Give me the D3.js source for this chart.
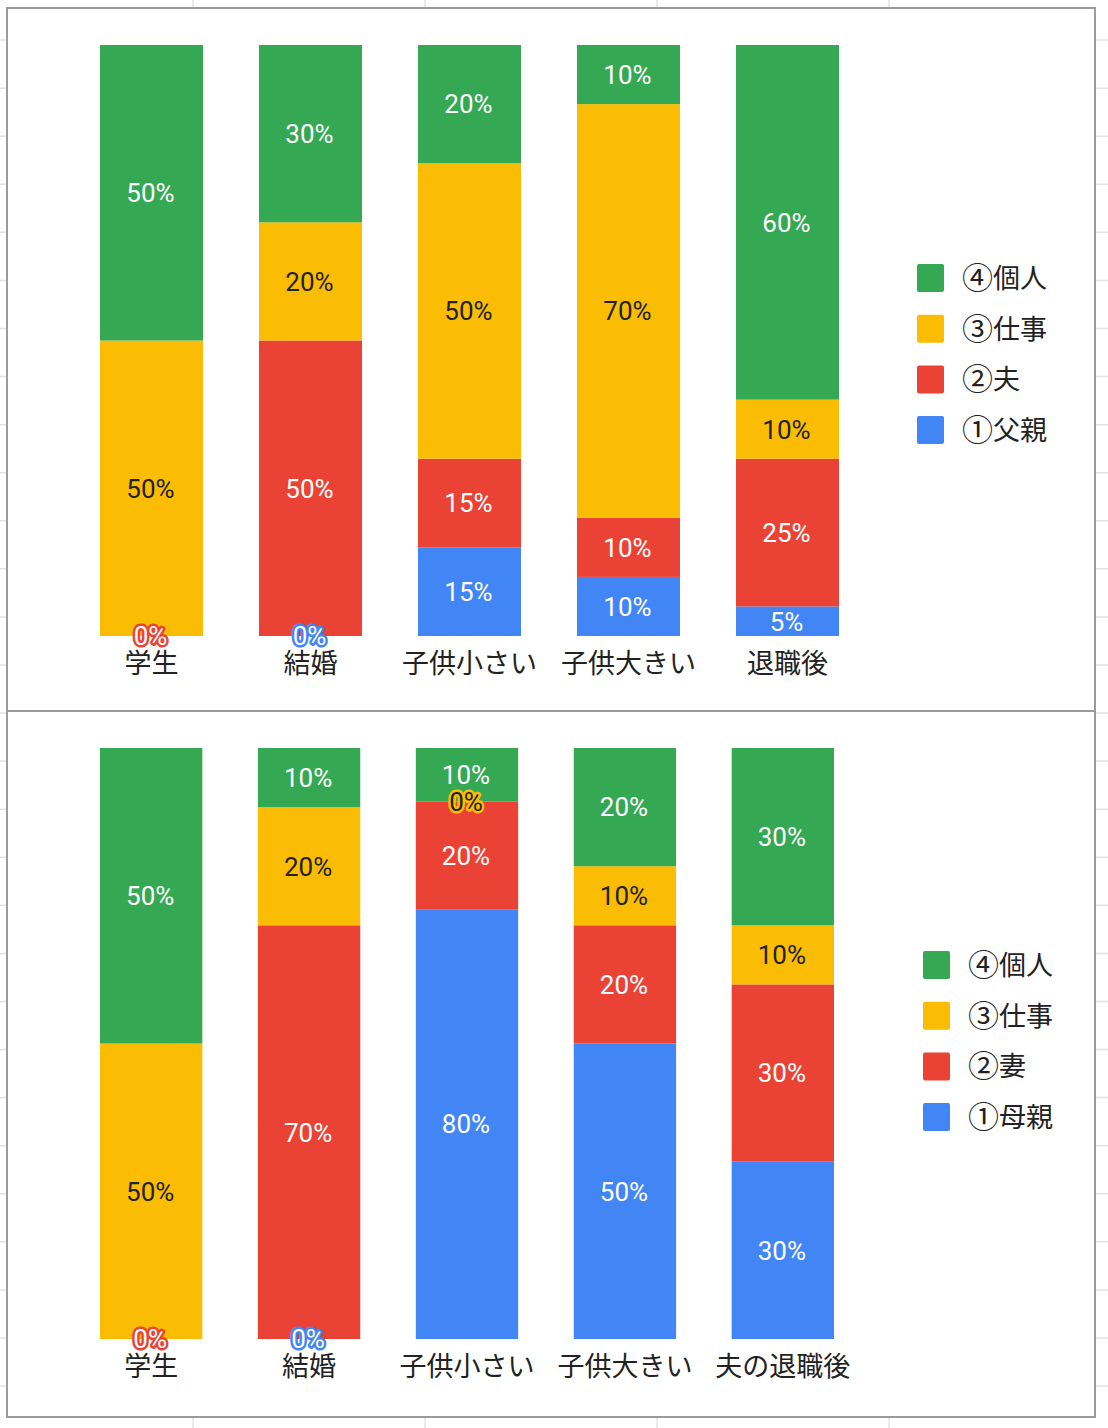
<!DOCTYPE html>
<html>
<head>
<meta charset="utf-8">
<script src="https://cdn.jsdelivr.net/npm/d3@7"></script>
<style>
  body { margin: 0; background: #fff; }
  text { font-family: Roboto, "Noto Sans CJK JP", sans-serif; }
</style>
</head>
<body>
<div id="chart"></div>
<script>
// data
const seriesKeys = ["s1", "s2", "s3", "s4"];  // bottom -> top
const colors = ["#4285f4", "#ea4335", "#fbbc04", "#34a853"];

const categoriesTop = ["学生", "結婚", "子供小さい", "子供大きい", "退職後"];
const seriesNamesTop = ["①父親", "②夫", "③仕事", "④個人"];
const fatherTop = [null, 0, 15, 10, 5];
const husbandTop = [0, 50, 15, 10, 25];
const workTop = [50, 20, 50, 70, 10];
const personalTop = [50, 30, 20, 10, 60];

const categoriesBottom = ["学生", "結婚", "子供小さい", "子供大きい", "夫の退職後"];
const seriesNamesBottom = ["①母親", "②妻", "③仕事", "④個人"];
const motherBottom = [null, 0, 80, 50, 30];
const wifeBottom = [0, 70, 20, 20, 30];
const workBottom = [50, 20, 0, 10, 10];
const personalBottom = [50, 10, 10, 20, 30];

const width = 1108, height = 1428;

const svg = d3.select("#chart")
    .append("svg")
    .attr("width", width)
    .attr("height", height);

// spreadsheet grid behind
const rowLines = d3.range(-8, 1428, 48.07);
svg.append("g")
    .selectAll("line")
    .data(rowLines)
    .join("line")
    .attr("x1", 0).attr("x2", width)
    .attr("y1", d => d).attr("y2", d => d)
    .attr("stroke", "#e3e3e3")
    .attr("stroke-width", 1.5);

svg.append("g")
    .selectAll("line")
    .data([193, 425, 657, 889])
    .join("line")
    .attr("x1", d => d).attr("x2", d => d)
    .attr("y1", 0).attr("y2", height)
    .attr("stroke", "#e3e3e3")
    .attr("stroke-width", 1.5);

const drawChart = (opts) => {
    const { categories, names, values, box, xRange, yRange, legendX, legendY } = opts;

    // box
    svg.append("rect")
        .attr("x", box[0]).attr("y", box[1])
        .attr("width", box[2]).attr("height", box[3])
        .attr("fill", "#fff")
        .attr("stroke", "#9b9b9b")
        .attr("stroke-width", 2);

    const rows = categories.map((c, i) => {
        const r = { category: c };
        seriesKeys.forEach((k, j) => r[k] = values[j][i]);
        return r;
    });

    const stacked = d3.stack()
        .keys(seriesKeys)
        .value((d, k) => d[k] ?? 0)
        .offset(d3.stackOffsetExpand)(rows);

    const x = d3.scaleBand()
        .domain(categories)
        .range(xRange)
        .paddingInner(0.352)
        .paddingOuter(0);

    const y = d3.scaleLinear()
        .domain([0, 1])
        .range(yRange);

    const g = svg.append("g");

    // bars
    g.selectAll("g.series")
        .data(stacked)
        .join("g")
        .attr("class", "series")
        .attr("fill", (d, i) => colors[i])
        .selectAll("rect")
        .data(d => d)
        .join("rect")
        .attr("x", d => x(d.data.category))
        .attr("y", d => y(d[1]))
        .attr("width", x.bandwidth())
        .attr("height", d => y(d[0]) - y(d[1]));

    // value labels
    const labels = [];
    stacked.forEach((s, i) => {
        s.forEach(d => {
            const v = d.data[s.key];
            if (v === null || v === undefined) return;
            labels.push({ i, v, cat: d.data.category, mid: (d[0] + d[1]) / 2 });
        });
    });

    g.selectAll("text.value")
        .data(labels)
        .join("text")
        .attr("class", "value")
        .attr("x", d => x(d.cat) + x.bandwidth() / 2 - 1)
        .attr("y", d => y(d.mid))
        .attr("dy", "0.36em")
        .attr("text-anchor", "middle")
        .attr("font-size", "26px")
        .attr("fill", d => d.i === 2 ? "#222" : "#fff")
        .attr("stroke", d => colors[d.i])
        .attr("stroke-width", 5)
        .attr("stroke-linejoin", "round")
        .attr("paint-order", "stroke")
        .text(d => d.v + "%");

    // x-axis
    const axis = g.append("g")
        .attr("transform", `translate(0,${yRange[0]})`)
        .call(d3.axisBottom(x).tickSize(0));
    axis.select(".domain").remove();
    axis.selectAll("text")
        .attr("y", 27)
        .attr("dy", "0.36em")
        .attr("font-size", "27px")
        .attr("font-family", "'Noto Sans CJK JP', sans-serif")
        .attr("fill", "#222");

    // legend
    const legendItems = names.map((n, i) => ({ name: n, i })).reverse();
    const legend = svg.append("g")
        .attr("transform", `translate(${legendX}, ${legendY})`);

    legend.selectAll("rect")
        .data(legendItems)
        .join("rect")
        .attr("x", 0)
        .attr("y", (d, k) => k * 50.7 - 14)
        .attr("width", 27)
        .attr("height", 28)
        .attr("rx", 2)
        .attr("fill", d => colors[d.i]);

    const lt = legend.selectAll("text")
        .data(legendItems)
        .join("text")
        .attr("x", 45)
        .attr("y", (d, k) => k * 50.7 + 10)
        .attr("font-size", "27px")
        .attr("font-family", "'Noto Sans CJK JP', sans-serif")
        .attr("fill", "#222");

    // circled digit drawn a bit larger, like the original font
    lt.append("tspan")
        .attr("font-size", "31px")
        .attr("dy", 1)
        .text(d => d.name.slice(0, 1));
    lt.append("tspan")
        .attr("dx", 0)
        .attr("dy", -1)
        .text(d => d.name.slice(1));
};

drawChart({
    categories: categoriesTop,
    names: seriesNamesTop,
    values: [fatherTop, husbandTop, workTop, personalTop],
    box: [7, 8, 1088, 703],
    xRange: [100, 839],
    yRange: [636, 45],
    legendX: 917,
    legendY: 278
});

drawChart({
    categories: categoriesBottom,
    names: seriesNamesBottom,
    values: [motherBottom, wifeBottom, workBottom, personalBottom],
    box: [7, 711, 1088, 706],
    xRange: [100, 834],
    yRange: [1339, 748],
    legendX: 923,
    legendY: 965
});
</script>
</body>
</html>
